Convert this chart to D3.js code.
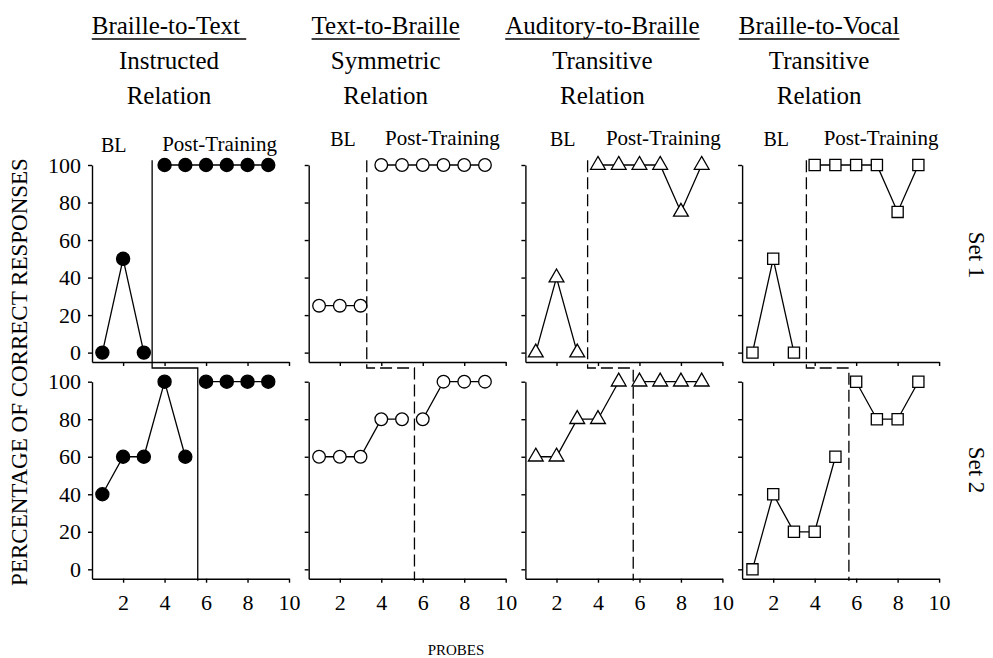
<!DOCTYPE html>
<html>
<head>
<meta charset="utf-8">
<script src="https://cdn.jsdelivr.net/npm/d3@7"></script>
<style>
	body { margin: 0; background: #fff; }
	text { font-family: "Liberation Serif", "Times New Roman", serif; fill: #000; }
	.axis path, .axis line { stroke: #000; stroke-width: 1.4; }
	.axis text { font-family: "Liberation Serif", "Times New Roman", serif; font-size: 22px; fill: #000; }
</style>
</head>
<body>
<div id="chart-area"></div>
<script>

// probes 1..9, baseline (BL) then post-training
var relations = ["Braille-to-Text ", "Text-to-Braille", "Auditory-to-Braille", "Braille-to-Vocal"];
var relationTypes = ["Instructed", "Symmetric", "Transitive", "Transitive"];
var setNames = ["Set 1", "Set 2"];

var blProbesSet1 = [1, 2, 3];
var postProbesSet1 = [4, 5, 6, 7, 8, 9];
var blProbesSet2 = [1, 2, 3, 4, 5];
var postProbesSet2 = [6, 7, 8, 9];

var set1Baseline = [[0, 50, 0], [25, 25, 25], [0, 40, 0], [0, 50, 0]];
var set1Post = [
	[100, 100, 100, 100, 100, 100],
	[100, 100, 100, 100, 100, 100],
	[100, 100, 100, 100, 75, 100],
	[100, 100, 100, 100, 75, 100]
];
var set2Baseline = [
	[40, 60, 60, 100, 60],
	[60, 60, 60, 80, 80],
	[60, 60, 80, 80, 100],
	[0, 40, 20, 20, 60]
];
var set2Post = [
	[100, 100, 100, 100],
	[80, 100, 100, 100],
	[100, 100, 100, 100],
	[100, 80, 80, 100]
];

// where the phase change line sits (in probe units)
var phaseSet1 = [3.4, 3.3, 3.5, 3.6];
var phaseSet2 = [5.6, 5.6, 5.7, 5.65];

var xTicks = [2, 4, 6, 8, 10];
var yTicks = [0, 20, 40, 60, 80, 100];

var width = 993,
	height = 658;

var svg = d3.select("#chart-area").append("svg")
	.attr("width", width)
	.attr("height", height);

var colStep = 216.7,
	rowStep = 216.7,
	panelW = 197,
	left0 = 92,
	top0 = 165,
	bottom0 = 362;

var symbols = [d3.symbolCircle, d3.symbolCircle, d3.symbolTriangle, d3.symbolSquare];
var symbolSizes = [135, 125, 95, 125];
var symbolFill = ["#000", "#fff", "#fff", "#fff"];

var blLabelX = [1.55, 2.15, 2.3, 2.15];
var ptLabelX = [6.65, 6.95, 7.15, 7.2];

for (var c = 0; c < 4; c++) {
	// column header
	var hx = left0 + c * colStep + 77;
	var head = svg.append("text")
		.attr("x", hx)
		.attr("y", 34)
		.attr("text-anchor", "middle")
		.attr("font-size", "25px")
		.style("white-space", "pre")
		.text(relations[c]);
	var bb = head.node().getBBox();
	svg.append("line")
		.attr("x1", bb.x).attr("x2", bb.x + bb.width)
		.attr("y1", 39).attr("y2", 39)
		.attr("stroke", "#000").attr("stroke-width", 1.5);
	svg.append("text")
		.attr("x", hx).attr("y", 69)
		.attr("text-anchor", "middle")
		.attr("font-size", "25px")
		.text(relationTypes[c]);
	svg.append("text")
		.attr("x", hx).attr("y", 104)
		.attr("text-anchor", "middle")
		.attr("font-size", "25px")
		.text("Relation");

	var scalesX = [], scalesY = [];

	for (var r = 0; r < 2; r++) {
		var x = d3.scaleLinear()
			.domain([0.5, 10])
			.range([left0 + c * colStep, left0 + c * colStep + panelW]);
		var y = d3.scaleLinear()
			.domain([-5, 100])
			.range([bottom0 + r * rowStep, top0 + r * rowStep]);
		scalesX.push(x);
		scalesY.push(y);

		var g = svg.append("g");

		var xAxis = d3.axisBottom(x)
			.tickValues(xTicks)
			.tickSize(4)
			.tickSizeOuter(0)
			.tickPadding(12);
		if (r == 0) xAxis.tickFormat("");
		g.append("g")
			.attr("class", "axis")
			.attr("transform", "translate(0," + (bottom0 + r * rowStep) + ")")
			.call(xAxis);

		var yAxis = d3.axisLeft(y)
			.tickValues(yTicks)
			.tickSize(4)
			.tickSizeOuter(0)
			.tickPadding(7);
		if (c != 0) yAxis.tickFormat("");
		g.append("g")
			.attr("class", "axis")
			.attr("transform", "translate(" + (left0 + c * colStep) + ",0)")
			.call(yAxis);

		var bl = r == 0 ? set1Baseline[c] : set2Baseline[c];
		var post = r == 0 ? set1Post[c] : set2Post[c];
		var blP = r == 0 ? blProbesSet1 : blProbesSet2;
		var postP = r == 0 ? postProbesSet1 : postProbesSet2;

		[[blP, bl], [postP, post]].forEach(function(seg) {
			var pts = seg[0].map(function(p, i) { return [p, seg[1][i]]; });
			var line = d3.line()
				.x(function(d) { return x(d[0]); })
				.y(function(d) { return y(d[1]); });
			g.append("path")
				.datum(pts)
				.attr("d", line)
				.attr("fill", "none")
				.attr("stroke", "#000")
				.attr("stroke-width", 1.3);
			g.selectAll(null)
				.data(pts)
				.enter()
				.append("path")
				.attr("d", d3.symbol().type(symbols[c]).size(symbolSizes[c]))
				.attr("transform", function(d) { return "translate(" + x(d[0]) + "," + y(d[1]) + ")"; })
				.attr("fill", symbolFill[c])
				.attr("stroke", "#000")
				.attr("stroke-width", 1.3);
		});
	}

	// phase change line running through both sets
	var gapY = bottom0 + 6;
	var phase = [
		[scalesX[0](phaseSet1[c]), scalesY[0](102.5)],
		[scalesX[0](phaseSet1[c]), gapY],
		[scalesX[1](phaseSet2[c]), gapY],
		[scalesX[1](phaseSet2[c]), bottom0 + rowStep + 2]
	];
	svg.append("path")
		.attr("d", d3.line()(phase))
		.attr("fill", "none")
		.attr("stroke", "#000")
		.attr("stroke-width", 1.3)
		.attr("stroke-dasharray", c == 0 ? null : "12,5");

	// BL / Post-Training labels
	var ly = c == 0 ? 152 : 146;
	svg.append("text")
		.attr("x", scalesX[0](blLabelX[c]))
		.attr("y", ly)
		.attr("text-anchor", "middle")
		.attr("font-size", "20px")
		.text("BL");
	svg.append("text")
		.attr("x", scalesX[0](ptLabelX[c]))
		.attr("y", ly - 1)
		.attr("text-anchor", "middle")
		.attr("font-size", "21px")
		.text("Post-Training");
}

// axis titles
svg.append("text")
	.attr("text-anchor", "middle")
	.attr("transform", "translate(27,372) rotate(-90)")
	.attr("font-size", "23px")
	.text("PERCENTAGE OF CORRECT RESPONSES");

svg.append("text")
	.attr("x", 456)
	.attr("y", 655)
	.attr("text-anchor", "middle")
	.attr("font-size", "15px")
	.text("PROBES");

setNames.forEach(function(s, i) {
	svg.append("text")
		.attr("text-anchor", "middle")
		.attr("transform", "translate(969," + (255 + i * 215) + ") rotate(90)")
		.attr("font-size", "23px")
		.text(s);
});

</script>
</body>
</html>
